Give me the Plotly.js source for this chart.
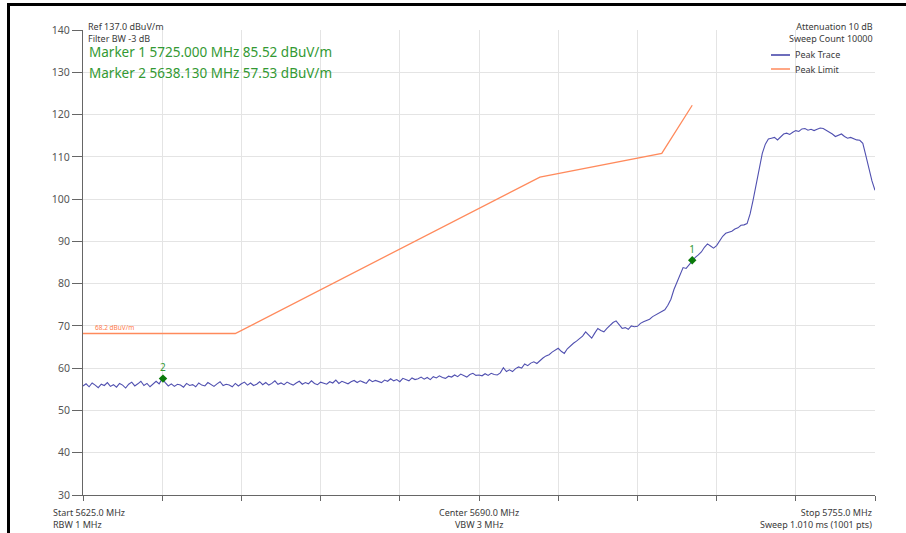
<!DOCTYPE html>
<html>
<head>
<meta charset="utf-8">
<script src="https://cdn.plot.ly/plotly-3.0.1.min.js"></script>
<style>
  html, body { margin: 0; padding: 0; background: #ffffff; }
  #chart { width: 906px; height: 533px; }
  #frameTop { position: absolute; left: 7px; top: 3px; width: 899px; height: 3px; background: #000; }
  #frameLeft { position: absolute; left: 7px; top: 3px; width: 3px; height: 530px; background: #000; }
</style>
</head>
<body>
<div id="chart"></div>
<div id="frameTop"></div>
<div id="frameLeft"></div>
<script>
// Sweep definition
var startFreq = 5625.0;
var stopFreq = 5755.0;
var stepFreq = 0.5;

// Peak trace values (dBuV/m), one per 0.5 MHz from 5625 to 5755 MHz
var peakTrace = [
  55.8, 56.3, 55.6, 56.5, 56.0, 55.4, 56.2, 55.9, 56.6, 55.7,
  56.1, 55.5, 56.4, 56.0, 55.3, 56.2, 56.7, 55.8, 56.3, 56.9,
  55.9, 56.4, 55.6, 56.2, 56.9, 56.3, 57.5, 56.6, 55.8, 56.3,
  55.7, 56.2, 56.0, 55.5, 56.4, 55.9, 56.1, 55.6, 56.5, 56.0,
  55.8, 56.6, 56.1, 55.7, 56.3, 56.8, 55.9, 56.2, 56.0, 55.6,
  56.4, 55.8, 56.3, 56.7, 56.0, 56.5, 55.9, 56.2, 56.8, 56.1,
  56.6, 56.0, 56.4, 57.0, 56.2, 56.5, 56.1, 56.7, 56.3, 56.0,
  56.5, 56.9, 56.2, 56.6, 56.3, 57.0, 56.4, 56.1, 56.7, 56.5,
  56.2, 56.8, 56.5, 57.2, 56.4, 56.9, 56.6, 56.3, 56.8, 57.1,
  56.6, 57.0, 56.7, 56.4, 57.3, 56.8, 57.1, 56.9, 56.6, 57.2,
  56.9, 57.5, 57.0, 57.3, 56.8, 57.6, 57.2, 57.0, 57.7, 57.3,
  57.5, 57.9, 57.4, 57.8, 57.3, 58.0, 57.7, 58.2, 57.8, 57.6,
  58.1, 57.9, 58.4, 58.0, 58.6, 58.2, 57.9, 58.5, 58.8, 58.3,
  58.4, 58.2, 58.7, 58.3, 58.8, 58.5, 58.4, 58.9, 60.1, 59.2,
  59.6, 59.2, 59.9, 60.3, 60.0, 61.0, 60.6, 61.2, 61.5, 61.1,
  61.8, 62.4, 62.9, 63.2, 63.8, 64.2, 64.7, 64.0, 63.5, 64.6,
  65.3, 65.9, 66.4, 66.9, 67.6, 68.6, 67.8, 67.1, 68.3, 69.4,
  68.9, 68.6, 69.4, 70.1, 70.8, 71.2, 70.2, 69.4, 69.6, 69.2,
  70.0, 69.8, 69.9, 70.6, 71.0, 71.3, 71.6, 72.2, 72.6, 73.0,
  73.3, 73.8, 74.9, 76.3, 78.6, 80.5, 81.9, 83.8, 83.6, 84.5,
  85.5, 86.2, 86.8, 87.5, 88.6, 89.4, 88.9, 88.4, 89.0, 90.2,
  91.2, 91.9, 92.2, 92.4, 92.9, 93.2, 93.8, 93.9, 94.2, 96.5,
  99.8, 103.8, 107.4, 110.8, 113.0, 114.2, 114.4, 114.6, 114.0, 114.7,
  115.4, 115.6, 115.3, 115.8, 116.2, 116.0, 116.6, 116.7, 116.3, 116.5,
  116.2, 116.5, 116.8, 116.7, 116.3, 115.8, 115.4, 114.8, 115.2, 115.4,
  114.8, 114.4, 114.6, 114.2, 114.0, 113.9, 113.2, 110.3, 107.2, 104.3,
  102.1
];

// Peak limit line
var limitFreq = [5625, 5650, 5700, 5720, 5725];
var limitLevel = [68.2, 68.2, 105.2, 110.8, 122.2];

// Markers
var markerNames = ["1", "2"];
var markerFreq = [5725.000, 5638.130];
var markerLevel = [85.52, 57.53];

// Axis ticks
var yTicks = [30, 40, 50, 60, 70, 80, 90, 100, 110, 120, 130, 140];

// Legend entries
var legendNames = ["Peak Trace", "Peak Limit"];
var legendColors = ["#3d3da6", "#ff8a5c"];

var traceFreq = peakTrace.map(function (v, i) { return startFreq + i * stepFreq; });

var FONT = "Noto Sans, Open Sans, sans-serif";
var GREEN = "#339933";
var TXT = "#3a3a3a";

var data = [
  {
    x: traceFreq, y: peakTrace, type: "scatter", mode: "lines",
    name: legendNames[0],
    line: { color: "#5050b0", width: 1.1 },
    hoverinfo: "skip"
  },
  {
    x: limitFreq, y: limitLevel, type: "scatter", mode: "lines",
    name: legendNames[1],
    line: { color: legendColors[1], width: 1.3 },
    hoverinfo: "skip"
  },
  {
    x: markerFreq, y: markerLevel, type: "scatter", mode: "markers+text",
    text: markerNames, textposition: "top center",
    textfont: { family: FONT, size: 10, color: GREEN },
    marker: { symbol: "diamond", size: 6.5, color: "#0a7a0a" },
    showlegend: false, hoverinfo: "skip", cliponaxis: false
  }
];

// pixel helpers for paper placement (plot area: x 83..875, y 30..495)
function px(xp) { return (xp - 83) / 792; }
function py(yp) { return 1 - (yp - 30) / 465; }

var shapes = [];
var annotations = [
  { text: "Ref 137.0 dBuV/m<br>Filter BW -3 dB", align: "left", xref: "paper", yref: "paper", x: px(87), y: py(18.5), xanchor: "left", yanchor: "top", borderpad: 0, showarrow: false, font: { family: FONT, size: 9, color: TXT } },
  { text: "Marker 1 " + markerFreq[0].toFixed(3) + " MHz " + markerLevel[0].toFixed(2) + " dBuV/m", xref: "paper", yref: "paper", x: px(88), y: py(51.5), xanchor: "left", yanchor: "middle", borderpad: 0, showarrow: false, font: { family: FONT, size: 13.5, color: GREEN } },
  { text: "Marker 2 " + markerFreq[1].toFixed(3) + " MHz " + markerLevel[1].toFixed(2) + " dBuV/m", xref: "paper", yref: "paper", x: px(88), y: py(72.5), xanchor: "left", yanchor: "middle", borderpad: 0, showarrow: false, font: { family: FONT, size: 13.5, color: GREEN } },
  { text: "Attenuation 10 dB<br>Sweep Count 10000", align: "right", xref: "paper", yref: "paper", x: px(874), y: py(18.5), xanchor: "right", yanchor: "top", borderpad: 0, showarrow: false, font: { family: FONT, size: 9, color: TXT } },
  { text: limitLevel[0].toFixed(1) + " dBuV/m", xref: "x", yref: "y", x: startFreq + 1.6, y: limitLevel[0], xanchor: "left", yanchor: "bottom", yshift: 0, showarrow: false, font: { family: FONT, size: 6.5, color: "#ff7a4a" } },
  { text: "Start " + startFreq.toFixed(1) + " MHz<br>RBW 1 MHz", align: "left", xref: "paper", yref: "paper", x: px(51), y: py(504), xanchor: "left", yanchor: "top", showarrow: false, font: { family: FONT, size: 9, color: TXT } },
  { text: "Center 5690.0 MHz<br>VBW 3 MHz", align: "center", xref: "paper", yref: "paper", x: 0.5, y: py(504), xanchor: "center", yanchor: "top", showarrow: false, font: { family: FONT, size: 9, color: TXT } },
  { text: "Stop " + stopFreq.toFixed(1) + " MHz<br>Sweep 1.010 ms (1001 pts)", align: "right", xref: "paper", yref: "paper", x: px(874), y: py(504), xanchor: "right", yanchor: "top", showarrow: false, font: { family: FONT, size: 9, color: TXT } }
];

// hand-drawn legend (compact, like the reference)
legendNames.forEach(function (name, i) {
  var yy = py(55 + i * 14);
  shapes.push({ type: "line", xref: "paper", yref: "paper", x0: px(771), x1: px(790), y0: yy, y1: yy, line: { color: legendColors[i], width: 1.5 } });
  annotations.push({ text: name, xref: "paper", yref: "paper", x: px(793), y: yy, xanchor: "left", yanchor: "middle", showarrow: false, font: { family: FONT, size: 9, color: TXT } });
});

var layout = {
  width: 906, height: 533,
  margin: { l: 83, r: 31, t: 30, b: 38, pad: 0 },
  paper_bgcolor: "#ffffff", plot_bgcolor: "#ffffff",
  font: { family: FONT, size: 11, color: "#555" },
  showlegend: false,
  xaxis: {
    range: [startFreq, stopFreq], dtick: 13, tick0: startFreq,
    showgrid: true, gridcolor: "#e4e4e4", gridwidth: 1,
    showline: true, linecolor: "#666", linewidth: 1,
    ticks: "outside", ticklen: 5, tickcolor: "#666",
    showticklabels: false, zeroline: false, fixedrange: true
  },
  yaxis: {
    range: [30, 140], tickvals: yTicks,
    showgrid: true, gridcolor: "#e4e4e4", gridwidth: 1,
    showline: true, linecolor: "#666", linewidth: 1,
    ticks: "outside", ticklen: 10, tickcolor: "#666",
    tickfont: { family: FONT, size: 10.5, color: "#555" },
    zeroline: false, fixedrange: true
  },
  shapes: shapes,
  annotations: annotations
};

Plotly.newPlot("chart", data, layout, { staticPlot: true, displayModeBar: false });
</script>
</body>
</html>
